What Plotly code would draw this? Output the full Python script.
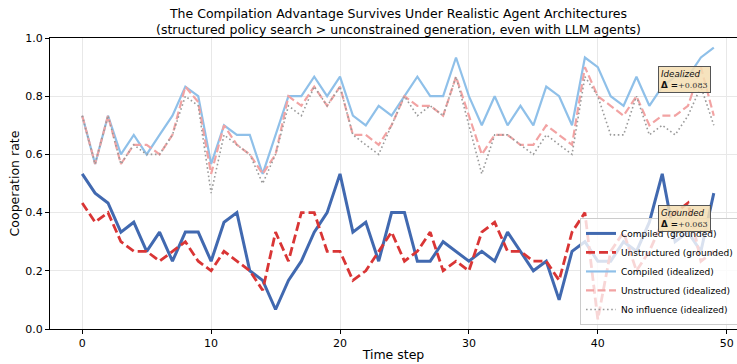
import plotly.graph_objects as go

steps = list(range(50))

compiled_grounded = [0.533, 0.467, 0.433, 0.333, 0.367, 0.267, 0.333, 0.233, 0.333, 0.333,
                     0.233, 0.367, 0.400, 0.200, 0.167, 0.067, 0.167, 0.233, 0.333, 0.400,
                     0.533, 0.333, 0.367, 0.233, 0.400, 0.400, 0.233, 0.233, 0.300, 0.267,
                     0.233, 0.267, 0.233, 0.333, 0.267, 0.200, 0.233, 0.100, 0.267, 0.300,
                     0.233, 0.233, 0.300, 0.267, 0.367, 0.533, 0.300, 0.333, 0.267, 0.467]

unstructured_grounded = [0.433, 0.367, 0.400, 0.300, 0.267, 0.267, 0.233, 0.267, 0.300, 0.233,
                         0.200, 0.267, 0.233, 0.200, 0.133, 0.333, 0.233, 0.400, 0.400, 0.267,
                         0.267, 0.167, 0.200, 0.267, 0.333, 0.233, 0.267, 0.333, 0.200, 0.233,
                         0.200, 0.333, 0.367, 0.267, 0.267, 0.233, 0.233, 0.167, 0.333, 0.400,
                         0.033, 0.267, 0.333, 0.200, 0.267, 0.367, 0.400, 0.433, 0.233, 0.267]

compiled_idealized = [0.733, 0.567, 0.733, 0.600, 0.667, 0.600, 0.667, 0.733, 0.833, 0.800,
                      0.567, 0.700, 0.667, 0.667, 0.533, 0.667, 0.800, 0.800, 0.867, 0.800,
                      0.867, 0.733, 0.700, 0.767, 0.733, 0.800, 0.867, 0.800, 0.800, 0.933,
                      0.800, 0.700, 0.800, 0.700, 0.767, 0.700, 0.833, 0.800, 0.700, 0.933,
                      0.900, 0.800, 0.767, 0.867, 0.767, 0.833, 0.867, 0.867, 0.933, 0.967]

unstructured_idealized = [0.733, 0.567, 0.733, 0.567, 0.633, 0.633, 0.600, 0.667, 0.833, 0.780,
                          0.533, 0.700, 0.633, 0.600, 0.533, 0.600, 0.800, 0.767, 0.833, 0.767,
                          0.833, 0.667, 0.667, 0.633, 0.700, 0.800, 0.767, 0.767, 0.733, 0.867,
                          0.733, 0.600, 0.667, 0.667, 0.633, 0.633, 0.700, 0.667, 0.633, 0.900,
                          0.800, 0.767, 0.733, 0.800, 0.700, 0.733, 0.733, 0.767, 0.900, 0.733]

no_influence = [0.733, 0.567, 0.733, 0.567, 0.633, 0.600, 0.600, 0.667, 0.800, 0.767,
                0.467, 0.667, 0.633, 0.600, 0.500, 0.600, 0.767, 0.733, 0.833, 0.767,
                0.833, 0.667, 0.633, 0.600, 0.700, 0.800, 0.733, 0.767, 0.733, 0.867,
                0.700, 0.533, 0.667, 0.667, 0.633, 0.600, 0.667, 0.633, 0.600, 0.867,
                0.800, 0.667, 0.667, 0.800, 0.667, 0.700, 0.667, 0.733, 0.833, 0.700]

series_names = ["Compiled (grounded)", "Unstructured (grounded)", "Compiled (idealized)",
                "Unstructured (idealized)", "No influence (idealized)"]

x_ticks = [0, 10, 20, 30, 40, 50]
y_ticks = [0.0, 0.2, 0.4, 0.6, 0.8, 1.0]

title_text = ("The Compilation Advantage Survives Under Realistic Agent Architectures<br>"
              "(structured policy search > unconstrained generation, even with LLM agents)")
idealized_delta = "+0.083"
grounded_delta = "+0.063"

FONT = "DejaVu Sans"

fig = go.Figure()
styles = [
    dict(color="#4169b0", width=3.0, dash="solid"),
    dict(color="#d93535", width=2.8, dash="9px,4px"),
    dict(color="#8fc0e9", width=2.2, dash="solid"),
    dict(color="#f2a3a3", width=2.2, dash="8px,3.5px"),
    dict(color="#9a9a9a", width=1.6, dash="1.6px,2.6px"),
]
for name, ys, st in zip(series_names,
                        [compiled_grounded, unstructured_grounded, compiled_idealized,
                         unstructured_idealized, no_influence], styles):
    fig.add_trace(go.Scatter(x=steps, y=ys, mode="lines", name=name, line=st))


def box_text(label, delta):
    return (f"<i>{label}</i><br><b>Δ =</b>"
            f"<span style=\"font-family:'DejaVu Serif';font-size:8px;color:#333\">{delta}</span>")


for label, delta, yv in [("Idealized", idealized_delta, 0.857), ("Grounded", grounded_delta, 0.38)]:
    fig.add_annotation(x=46.72, y=yv, xref="x", yref="y", text=box_text(label, delta),
                       showarrow=False, align="left", xanchor="center", yanchor="middle",
                       font=dict(family=FONT, size=8.7, color="#111"),
                       bgcolor="rgba(245,222,179,0.85)", bordercolor="#555555",
                       borderwidth=1, borderpad=2)

# two-line title placed as a paper annotation for exact positioning
fig.add_annotation(text=title_text, xref="paper", yref="paper",
                   x=(398 - 50) / 687, y=(329 - 21.5) / 291, xanchor="center", yanchor="middle",
                   showarrow=False, align="center",
                   font=dict(family=FONT, size=12.5, color="black"))

fig.update_layout(
    width=737, height=364,
    margin=dict(l=50, r=0, t=38, b=35, autoexpand=False),
    paper_bgcolor="white", plot_bgcolor="white",
    font=dict(family=FONT, size=11, color="black"),
    legend=dict(x=(580 - 50) / 687, y=0.014, xanchor="left", yanchor="bottom",
                bgcolor="rgba(255,255,255,0.8)", bordercolor="#cccccc", borderwidth=1,
                font=dict(family=FONT, size=9, color="black"), tracegroupgap=0),
    showlegend=True,
)
fig.update_xaxes(range=[-2.5, 50.8], tickvals=x_ticks, ticktext=[str(v) for v in x_ticks],
                 showgrid=True, gridcolor="#e8e8e8", gridwidth=1, zeroline=False,
                 showline=True, linecolor="black", linewidth=1, mirror=True,
                 ticks="outside", ticklen=4, tickcolor="black", tickwidth=1,
                 tickfont=dict(family=FONT, size=11, color="black"),
                 title=dict(text="Time step", font=dict(family=FONT, size=12.5, color="black"),
                            standoff=1))
fig.update_yaxes(range=[0, 1], tickvals=y_ticks, ticktext=[f"{v:.1f}" for v in y_ticks],
                 showgrid=True, gridcolor="#e8e8e8", gridwidth=1, zeroline=False,
                 showline=True, linecolor="black", linewidth=1, mirror=False,
                 ticks="outside", ticklen=4, tickcolor="black", tickwidth=1,
                 tickfont=dict(family=FONT, size=11, color="black"),
                 title=dict(text="Cooperation rate", font=dict(family=FONT, size=12.5, color="black"),
                            standoff=2))

fig.write_html("out.html")
